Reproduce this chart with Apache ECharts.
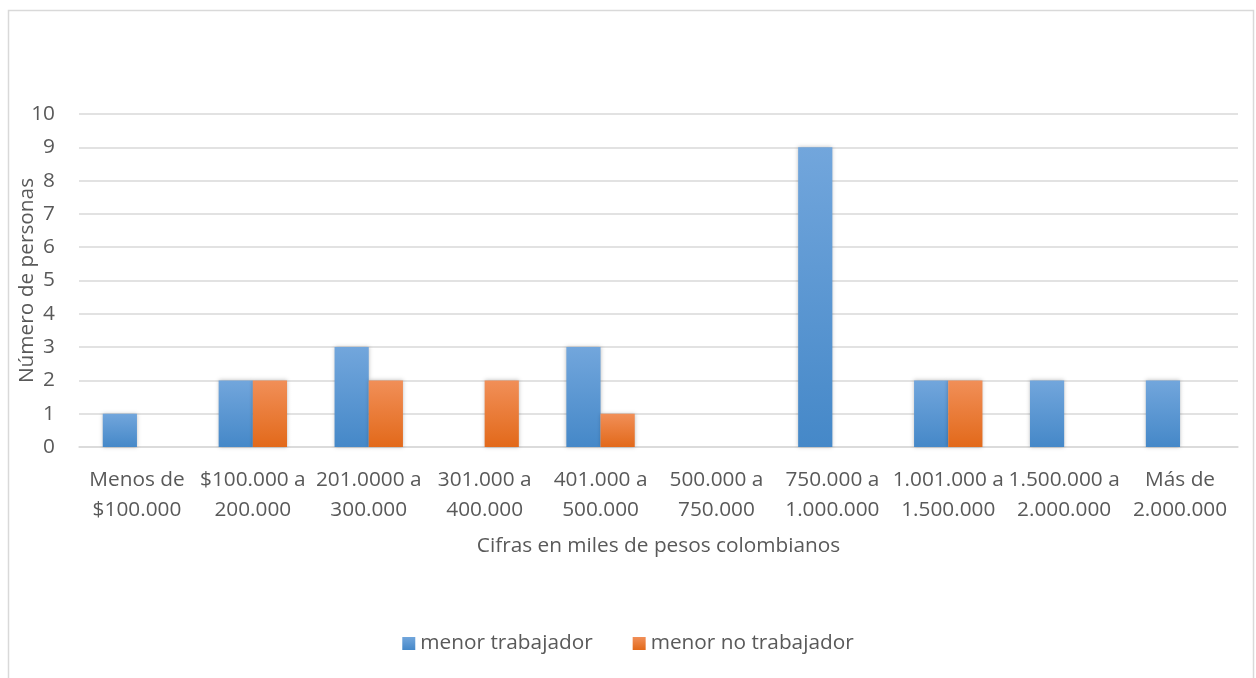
<!DOCTYPE html>
<html><head><meta charset="utf-8">
<script src="https://cdn.jsdelivr.net/npm/echarts@6/dist/echarts.min.js"></script>
<style>html,body{margin:0;padding:0;background:#fff}#c{width:1256px;height:678px}</style>
</head><body><div id="c"></div>
<script>
const categories = ['Menos de\n$100.000','$100.000 a\n200.000','201.0000 a\n300.000','301.000 a\n400.000','401.000 a\n500.000','500.000 a\n750.000','750.000 a\n1.000.000','1.001.000 a\n1.500.000','1.500.000 a\n2.000.000','Más de\n2.000.000'];
const trabajador = [1,2,3,0,3,0,9,2,2,2];
const noTrabajador = [0,2,2,2,1,0,0,2,0,0];
const seriesNames = ['menor trabajador','menor no trabajador'];
const yTicks = {min:0, max:10, interval:1};

const font = '"Open Sans", Lato, sans-serif';
const txt = '#595959';
const fs = 20.8;
function grad(top, bottom){
  return new echarts.graphic.LinearGradient(0,0,0,1,[{offset:0,color:top},{offset:1,color:bottom}]);
}
const chart = echarts.init(document.getElementById('c'), null, {renderer:'canvas'});
chart.setOption({
  backgroundColor:'#fff',
  animation:false,
  graphic:[{type:'rect',shape:{x:8.5,y:10.5,width:1245,height:700},style:{fill:'none',stroke:'#D9D9D9',lineWidth:1.5},silent:true}],
  grid:{left:79,right:18,top:114,bottom:231,containLabel:false,outerBoundsMode:'none'},
  legend:{bottom:19,left:'center',itemWidth:13,itemHeight:13,itemGap:40,icon:'rect',
    textStyle:{color:txt,fontSize:fs,fontFamily:font},
    data:seriesNames},
  xAxis:{type:'category',data:categories,
    axisLine:{lineStyle:{color:'#D9D9D9',width:1.5}},axisTick:{show:false},
    axisLabel:{interval:0,color:txt,fontSize:fs,fontFamily:font,lineHeight:30,margin:18},
    name:'Cifras en miles de pesos colombianos',nameLocation:'middle',nameGap:89,nameMoveOverlap:false,
    nameTextStyle:{color:txt,fontSize:fs,fontFamily:font}},
  yAxis:{type:'value',min:yTicks.min,max:yTicks.max,interval:yTicks.interval,
    axisLine:{show:false},axisTick:{show:false},
    splitLine:{lineStyle:{color:'#D9D9D9',width:1.5}},
    axisLabel:{color:txt,fontSize:fs,fontFamily:font,margin:24},
    name:'Número de personas',nameLocation:'middle',nameGap:41,nameRotate:90,nameMoveOverlap:false,
    nameTextStyle:{color:txt,fontSize:fs,fontFamily:font}},
  series:[
    {name:seriesNames[0],type:'bar',data:trabajador,barGap:'0%',barCategoryGap:'41%',
     itemStyle:{color:grad('#72A6DC','#4588C8'),shadowBlur:4,shadowColor:'rgba(0,0,0,0.25)'}},
    {name:seriesNames[1],type:'bar',data:noTrabajador,
     itemStyle:{color:grad('#F18F58','#E2691A'),shadowBlur:4,shadowColor:'rgba(0,0,0,0.25)'}}
  ]
});
</script></body></html>
